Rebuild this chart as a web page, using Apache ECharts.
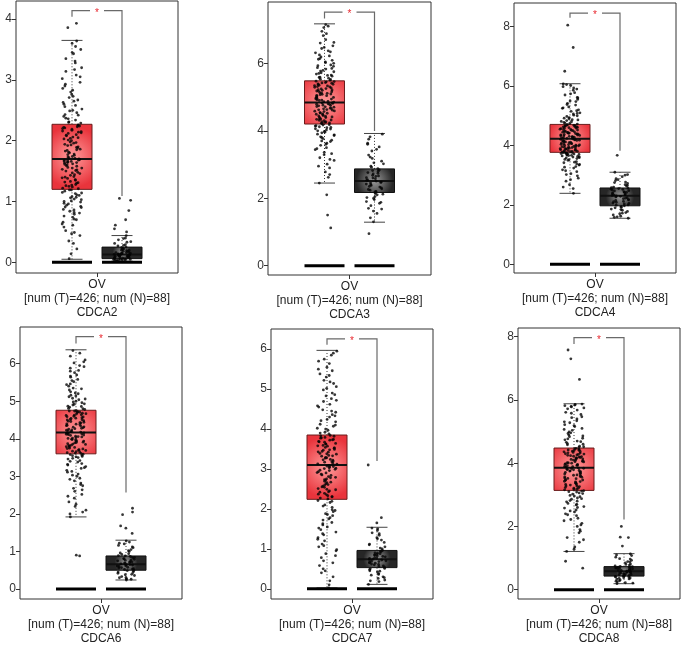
<!DOCTYPE html>
<html><head><meta charset="utf-8">
<script src="https://cdn.jsdelivr.net/npm/echarts@6/dist/echarts.min.js"></script>
<style>html,body{margin:0;padding:0;background:#fff}#c{width:692px;height:646px}</style>
</head><body><div id="c"></div>
<script>
// ---------- data ----------
const genes = ['CDCA2','CDCA3','CDCA4','CDCA6','CDCA7','CDCA8'];
const cancer = 'OV';
const numT = 426, numN = 88;
const yMin = [-0.176, -0.276, -0.293, -0.266, -0.256, -0.294];
const yMax = [4.298, 7.818, 8.798, 6.977, 6.505, 8.276];
const yTicks = [[0,1,2,3,4],[0,2,4,6],[0,2,4,6,8],[0,1,2,3,4,5,6],[0,1,2,3,4,5,6],[0,2,4,6,8]];
// [lowWhisker, Q1, median, Q3, highWhisker]
const tumorStats = [
  [0.05, 1.2, 1.7, 2.27, 3.65],
  [2.45, 4.2, 4.84, 5.48, 7.17],
  [2.39, 3.77, 4.23, 4.71, 6.08],
  [1.92, 3.6, 4.17, 4.76, 6.37],
  [0.02, 2.24, 3.1, 3.85, 5.97],
  [1.21, 3.14, 3.86, 4.48, 5.88]
];
const normalStats = [
  [0.02, 0.06, 0.13, 0.25, 0.44],
  [1.29, 2.17, 2.51, 2.87, 3.92],
  [1.55, 1.97, 2.31, 2.57, 3.1],
  [0.24, 0.5, 0.66, 0.88, 1.3],
  [0.11, 0.53, 0.74, 0.96, 1.54],
  [0.19, 0.43, 0.58, 0.73, 1.14]
];
// significance bracket: [top, left leg end, right leg end]
const brackets = [
  [4.14, 4.04, 1.09],
  [7.52, 7.33, 3.99],
  [8.46, 8.3, 3.82],
  [6.72, 6.54, 2.57],
  [6.26, 6.11, 3.2],
  [7.97, 7.77, 2.22]
];
const tumorCDCA2 = [0.06,0.14,0.22,0.31,0.44,0.47,0.52,0.58,0.61,0.66,0.7,0.71,0.76,0.79,0.82,0.84,0.87,0.9,0.91,0.94,0.96,0.99,1.01,1.03,1.06,1.08,1.11,1.13,1.15,1.19,
 1.21,1.22,1.25,1.26,1.28,1.3,1.32,1.33,1.36,1.38,1.4,1.41,1.44,1.46,1.48,1.5,1.51,1.53,1.55,1.56,1.58,1.6,1.61,1.63,1.64,1.65,1.66,1.67,1.68,1.69,
 1.71,1.72,1.74,1.77,1.78,1.8,1.83,1.84,1.86,1.89,1.9,1.92,1.94,1.97,1.98,2.0,2.03,2.04,2.06,2.08,2.1,2.12,2.14,2.15,2.17,2.19,2.21,2.22,2.24,2.26,
 2.29,2.31,2.34,2.37,2.4,2.42,2.46,2.49,2.52,2.56,2.6,2.63,2.67,2.71,2.76,2.8,2.86,2.9,2.96,3.02,3.08,3.14,3.2,3.28,3.35,3.43,3.5,3.6,3.86,3.93,
 0.35,0.49,0.63,0.74,0.81,0.86,0.92,0.97,1.0,1.04,1.07,1.1,1.14,1.17,1.19,
 1.24,1.27,1.31,1.35,1.39,1.43,1.47,1.52,1.55,1.59,1.62,1.64,1.66,1.68,1.7,
 1.73,1.76,1.81,1.85,1.88,1.93,1.96,2.01,2.05,2.09,2.13,2.16,2.2,2.23,2.25,
 2.3,2.36,2.43,2.5,2.58,2.65,2.73,2.83,2.93,3.05,3.17,3.31,3.45,3.55,3.64];
const normalCDCA2 = [0.02,0.03,0.03,0.04,0.05,0.05,0.06,0.06,0.07,0.08,0.08,0.09,0.1,0.1,0.11,0.12,0.12,0.13,0.13,0.14,0.15,0.15,0.16,0.17,0.18,0.19,0.2,0.21,0.22,0.24,0.25,0.27,0.29,0.31,0.34,0.37,0.4,0.44,0.5,0.55,0.61,0.7,0.85,1.02,1.05,
 0.03,0.04,0.05,0.06,0.07,0.08,0.09,0.1,0.11,0.12,0.13,0.14,0.15,0.16,0.18,0.2,0.23,0.28,0.33,0.39];
const tumorCDCA3 = [1.12,1.5,2.1,2.45,2.62,2.78,2.9,3.01,3.12,3.2,3.29,3.36,3.44,3.5,3.57,3.63,3.68,3.72,3.77,3.82,3.86,3.9,3.94,3.98,4.02,4.06,4.09,4.12,4.15,4.18,
 4.21,4.23,4.25,4.27,4.3,4.32,4.34,4.36,4.39,4.41,4.43,4.45,4.48,4.5,4.52,4.54,4.57,4.59,4.61,4.63,4.65,4.67,4.7,4.72,4.74,4.76,4.78,4.8,4.82,4.83,
 4.85,4.87,4.9,4.92,4.94,4.96,4.98,5.0,5.03,5.05,5.07,5.09,5.11,5.13,5.16,5.18,5.2,5.22,5.24,5.27,5.29,5.31,5.33,5.35,5.37,5.39,5.41,5.43,5.45,5.47,
 5.5,5.53,5.56,5.59,5.62,5.65,5.68,5.72,5.75,5.79,5.83,5.87,5.91,5.95,6.0,6.04,6.09,6.14,6.19,6.25,6.31,6.37,6.44,6.52,6.6,6.7,6.82,6.95,7.06,7.15,
 2.7,2.95,3.15,3.32,3.47,3.6,3.7,3.8,3.88,3.96,4.0,4.05,4.1,4.14,4.17,
 4.22,4.26,4.31,4.35,4.4,4.44,4.49,4.53,4.58,4.62,4.66,4.71,4.75,4.79,4.81,
 4.86,4.91,4.95,4.99,5.04,5.08,5.12,5.17,5.21,5.25,5.3,5.34,5.38,5.42,5.46,
 5.52,5.58,5.64,5.7,5.77,5.85,5.93,6.02,6.12,6.22,6.34,6.47,6.62,6.88,7.1];
const normalCDCA3 = [0.95,1.3,1.42,1.55,1.62,1.7,1.78,1.85,1.9,1.96,2.0,2.05,2.1,2.14,2.17,2.2,2.24,2.28,2.31,2.35,2.38,2.42,2.45,2.48,2.51,2.54,2.58,2.61,2.65,2.68,2.72,2.76,2.8,2.84,2.88,2.95,3.02,3.1,3.18,3.28,3.4,3.52,3.63,3.75,3.9,
 1.68,1.88,2.02,2.12,2.19,2.26,2.33,2.4,2.47,2.53,2.6,2.66,2.74,2.82,2.92,3.05,3.22,3.45,3.6,3.82];
const tumorCDCA4 = [2.39,2.55,2.68,2.8,2.9,2.98,3.05,3.12,3.18,3.24,3.29,3.34,3.38,3.42,3.46,3.5,3.53,3.56,3.59,3.61,3.63,3.65,3.67,3.69,3.7,3.71,3.73,3.74,3.75,3.76,
 3.78,3.79,3.8,3.82,3.83,3.85,3.86,3.88,3.89,3.91,3.92,3.94,3.95,3.97,3.98,4.0,4.02,4.03,4.05,4.06,4.08,4.1,4.11,4.13,4.15,4.16,4.18,4.19,4.21,4.22,
 4.24,4.25,4.27,4.28,4.3,4.32,4.33,4.35,4.37,4.38,4.4,4.42,4.43,4.45,4.47,4.48,4.5,4.52,4.53,4.55,4.57,4.58,4.6,4.62,4.63,4.65,4.66,4.68,4.69,4.7,
 4.72,4.75,4.78,4.81,4.84,4.87,4.9,4.94,4.98,5.02,5.06,5.1,5.15,5.2,5.25,5.3,5.36,5.42,5.48,5.55,5.62,5.7,5.78,5.86,5.94,6.02,6.07,6.5,7.3,8.05,
 2.6,2.85,3.02,3.15,3.27,3.36,3.44,3.52,3.58,3.62,3.66,3.68,3.72,3.74,3.76,
 3.79,3.81,3.84,3.87,3.9,3.93,3.96,3.99,4.01,4.04,4.07,4.12,4.14,4.17,4.2,
 4.26,4.29,4.31,4.34,4.36,4.39,4.41,4.44,4.46,4.51,4.54,4.59,4.61,4.64,4.67,
 4.74,4.8,4.86,4.92,5.0,5.08,5.17,5.27,5.38,5.5,5.6,5.74,5.9,5.98,6.05];
const normalCDCA4 = [1.55,1.58,1.62,1.66,1.7,1.74,1.78,1.82,1.86,1.9,1.94,1.97,2.0,2.03,2.06,2.09,2.12,2.15,2.18,2.21,2.24,2.27,2.3,2.32,2.34,2.37,2.4,2.42,2.44,2.47,2.5,2.52,2.55,2.57,2.6,2.64,2.68,2.72,2.77,2.82,2.88,2.95,3.02,3.1,3.67,
 1.6,1.72,1.84,1.92,1.99,2.05,2.11,2.17,2.23,2.29,2.33,2.38,2.43,2.48,2.53,2.58,2.66,2.75,2.85,3.0];
const tumorCDCA6 = [0.88,0.9,1.92,2.0,2.1,2.2,2.32,2.42,2.52,2.6,2.68,2.75,2.82,2.88,2.95,3.0,3.06,3.11,3.16,3.21,3.26,3.3,3.34,3.38,3.42,3.46,3.5,3.53,3.56,3.59,
 3.61,3.63,3.65,3.67,3.69,3.71,3.73,3.75,3.77,3.79,3.81,3.83,3.85,3.87,3.89,3.91,3.93,3.95,3.97,3.99,4.01,4.03,4.05,4.07,4.09,4.11,4.12,4.14,4.15,4.16,
 4.18,4.2,4.22,4.24,4.26,4.28,4.3,4.32,4.34,4.36,4.38,4.4,4.42,4.44,4.46,4.48,4.5,4.52,4.54,4.56,4.58,4.6,4.62,4.64,4.66,4.68,4.7,4.72,4.74,4.75,
 4.78,4.81,4.84,4.87,4.9,4.93,4.96,5.0,5.04,5.08,5.12,5.16,5.2,5.25,5.3,5.35,5.4,5.46,5.52,5.58,5.64,5.7,5.76,5.82,5.88,5.95,6.02,6.1,6.2,6.35,
 2.05,2.26,2.47,2.64,2.78,2.92,3.03,3.13,3.23,3.32,3.4,3.48,3.52,3.55,3.58,
 3.62,3.66,3.7,3.74,3.78,3.82,3.86,3.9,3.94,3.98,4.02,4.06,4.1,4.13,4.16,
 4.19,4.23,4.27,4.31,4.35,4.39,4.43,4.47,4.51,4.55,4.59,4.63,4.67,4.71,4.74,
 4.8,4.86,4.92,4.98,5.06,5.14,5.22,5.33,5.44,5.55,5.67,5.8,5.92,6.05,6.28];
const normalCDCA6 = [0.24,0.27,0.3,0.33,0.36,0.39,0.42,0.45,0.48,0.5,0.52,0.54,0.56,0.58,0.6,0.62,0.64,0.65,0.67,0.69,0.71,0.73,0.75,0.77,0.79,0.81,0.83,0.85,0.87,0.89,0.92,0.96,1.0,1.05,1.1,1.16,1.22,1.28,1.48,1.62,1.68,1.98,2.05,2.15,
 0.26,0.3,0.38,0.44,0.49,0.53,0.57,0.61,0.64,0.68,0.72,0.76,0.8,0.84,0.88,0.94,1.02,1.12,1.2,1.25];
const tumorCDCA7 = [0.02,0.1,0.3,0.4,0.5,0.58,0.7,0.78,0.88,0.98,1.05,1.12,1.2,1.28,1.35,1.42,1.48,1.55,1.6,1.66,1.72,1.78,1.83,1.88,1.93,1.98,2.04,2.1,2.16,2.21,
 2.27,2.3,2.33,2.36,2.39,2.42,2.45,2.48,2.51,2.54,2.57,2.6,2.63,2.66,2.69,2.72,2.75,2.78,2.81,2.84,2.87,2.9,2.93,2.96,2.99,3.01,3.03,3.05,3.07,3.09,
 3.12,3.14,3.17,3.19,3.22,3.24,3.27,3.29,3.32,3.34,3.37,3.39,3.42,3.44,3.47,3.49,3.52,3.54,3.57,3.59,3.62,3.64,3.67,3.69,3.72,3.74,3.77,3.79,3.82,3.84,
 3.88,3.92,3.97,4.02,4.07,4.12,4.18,4.24,4.3,4.36,4.42,4.48,4.55,4.62,4.69,4.76,4.83,4.9,4.98,5.06,5.14,5.22,5.3,5.38,5.46,5.55,5.64,5.75,5.85,5.95,
 0.2,0.45,0.65,0.83,0.95,1.08,1.24,1.38,1.52,1.63,1.75,1.86,1.96,2.07,2.19,
 2.25,2.31,2.37,2.43,2.49,2.55,2.61,2.67,2.73,2.79,2.85,2.91,2.97,3.02,3.06,
 3.13,3.18,3.23,3.28,3.33,3.38,3.43,3.48,3.53,3.58,3.63,3.68,3.73,3.78,3.83,
 3.9,4.0,4.1,4.21,4.33,4.45,4.58,4.72,4.86,5.02,5.18,5.34,5.5,5.7,5.9];
const normalCDCA7 = [0.11,0.18,0.22,0.26,0.3,0.34,0.38,0.42,0.45,0.48,0.51,0.54,0.57,0.6,0.62,0.64,0.66,0.68,0.7,0.72,0.74,0.76,0.78,0.8,0.82,0.84,0.86,0.88,0.9,0.93,0.96,1.0,1.05,1.1,1.16,1.22,1.28,1.34,1.4,1.46,1.52,1.65,1.78,3.1,
 0.2,0.28,0.36,0.44,0.5,0.56,0.61,0.65,0.69,0.73,0.77,0.81,0.85,0.89,0.94,1.02,1.12,1.25,1.38,1.5];
const tumorCDCA8 = [0.68,0.9,1.21,1.35,1.5,1.65,1.8,1.9,2.0,2.1,2.18,2.26,2.34,2.4,2.46,2.52,2.58,2.63,2.68,2.73,2.78,2.82,2.86,2.9,2.94,2.98,3.02,3.06,3.09,3.12,
 3.16,3.18,3.21,3.23,3.26,3.28,3.31,3.33,3.36,3.38,3.41,3.43,3.46,3.48,3.51,3.53,3.56,3.58,3.61,3.63,3.66,3.68,3.71,3.73,3.75,3.77,3.79,3.81,3.83,3.85,
 3.88,3.9,3.92,3.94,3.96,3.98,4.0,4.02,4.04,4.06,4.08,4.1,4.12,4.14,4.16,4.18,4.2,4.22,4.24,4.26,4.28,4.3,4.32,4.34,4.36,4.38,4.4,4.42,4.44,4.47,
 4.5,4.54,4.58,4.62,4.66,4.7,4.74,4.79,4.84,4.89,4.94,4.99,5.04,5.1,5.16,5.22,5.28,5.34,5.4,5.47,5.54,5.61,5.68,5.75,5.8,5.82,5.86,6.65,7.3,7.58,
 1.28,1.58,1.85,2.05,2.22,2.37,2.49,2.6,2.7,2.8,2.88,2.96,3.04,3.1,3.13,
 3.17,3.22,3.27,3.32,3.37,3.42,3.47,3.52,3.57,3.62,3.67,3.72,3.76,3.8,3.84,
 3.89,3.93,3.97,4.01,4.05,4.09,4.13,4.17,4.21,4.25,4.29,4.33,4.37,4.41,4.45,
 4.52,4.6,4.68,4.77,4.86,4.96,5.07,5.19,5.31,5.44,5.58,5.72,5.78,5.84,5.87];
const normalCDCA8 = [0.19,0.22,0.25,0.28,0.31,0.34,0.36,0.38,0.4,0.42,0.43,0.45,0.46,0.48,0.5,0.51,0.53,0.54,0.56,0.57,0.58,0.6,0.61,0.63,0.64,0.66,0.67,0.69,0.7,0.72,0.73,0.75,0.78,0.81,0.85,0.89,0.93,0.98,1.03,1.08,1.13,1.38,1.65,1.66,2.0,
 0.21,0.27,0.33,0.37,0.41,0.44,0.47,0.5,0.53,0.56,0.59,0.62,0.65,0.68,0.71,0.74,0.8,0.88,0.97,1.1];

const tumorPts = [tumorCDCA2, tumorCDCA3, tumorCDCA4, tumorCDCA6, tumorCDCA7, tumorCDCA8];
const normalPts = [normalCDCA2, normalCDCA3, normalCDCA4, normalCDCA6, normalCDCA7, normalCDCA8];

// ---------- layout / style ----------
const layout = [
  {left:16,  top:1,   width:162, height:272},
  {left:268, top:2,   width:163, height:273},
  {left:514, top:3,   width:162, height:270},
  {left:20,  top:327, width:162, height:272},
  {left:271, top:329, width:162, height:272},
  {left:518, top:328, width:162, height:271}
];
const POS_T = -25, POS_N = 25, HALF_BOX = 20, HALF_CAP = 10.5;
const FONT = '"Liberation Sans", Arial, sans-serif';

// deterministic horizontal jitter (x position only, carries no data)
function jitter(i, span) {
  let t = (Math.imul(i + 1, 0x9E3779B9) + 0x6D2B79F5) | 0;
  t = Math.imul(t ^ (t >>> 15), t | 1);
  t ^= t + Math.imul(t ^ (t >>> 7), t | 61);
  const u = ((t ^ (t >>> 14)) >>> 0) / 4294967296;
  return (u * 2 - 1) * span;
}

function boxRender(params, api) {
  const x = api.value(0);
  const hw = api.size([HALF_BOX, 0])[0];
  const cw = api.size([HALF_CAP, 0])[0];
  const c = v => api.coord([x, v]);
  const pl = c(api.value(1)), p1 = c(api.value(2)), pm = c(api.value(3)), p3 = c(api.value(4)), ph = c(api.value(5)), p0 = c(0);
  const tumor = api.value(6) === 0;
  const cx = pm[0];
  const grad = tumor
    ? new echarts.graphic.RadialGradient(0.5, 0.5, 0.75, [{offset:0,color:'#ff9c9c'},{offset:1,color:'#e9343c'}])
    : new echarts.graphic.RadialGradient(0.5, 0.5, 0.75, [{offset:0,color:'#9b9b9b'},{offset:1,color:'#262626'}]);
  const dot = {stroke:'#333', lineWidth:1, lineDash:[1,2]};
  const cap = {stroke:'#444', lineWidth:1};
  return {type:'group', children:[
    {type:'line', shape:{x1:cx, y1:p3[1], x2:cx, y2:ph[1]}, style:dot},
    {type:'line', shape:{x1:cx, y1:p1[1], x2:cx, y2:pl[1]}, style:dot},
    {type:'line', shape:{x1:cx-cw, y1:ph[1], x2:cx+cw, y2:ph[1]}, style:cap},
    {type:'line', shape:{x1:cx-cw, y1:pl[1], x2:cx+cw, y2:pl[1]}, style:cap},
    {type:'rect', shape:{x:cx-hw, y:p3[1], width:2*hw, height:p1[1]-p3[1]},
      style:{fill:grad, stroke: tumor ? '#6a1c1c' : '#111', lineWidth:1}},
    {type:'line', shape:{x1:cx-hw, y1:pm[1], x2:cx+hw, y2:pm[1]}, style:{stroke:'#111', lineWidth:2}},
    {type:'line', shape:{x1:cx-hw, y1:p0[1], x2:cx+hw, y2:p0[1]}, style:{stroke:'#000', lineWidth:3}}
  ]};
}

function bracketRender(params, api) {
  const xl = api.value(0), xr = api.value(1), top = api.value(2);
  const a = api.coord([xl, top]), b = api.coord([xr, top]);
  const la = api.coord([xl, api.value(3)]), rb = api.coord([xr, api.value(4)]);
  const mid = (a[0] + b[0]) / 2, gap = 7;
  const st = {stroke:'#6a6a6a', lineWidth:1.2, fill:null};
  return {type:'group', children:[
    {type:'polyline', shape:{points:[[la[0],la[1]],[a[0],a[1]],[mid-gap,a[1]]]}, style:st},
    {type:'polyline', shape:{points:[[mid+gap,b[1]],[b[0],b[1]],[rb[0],rb[1]]]}, style:st},
    {type:'text', x:mid, y:a[1]+2.5, style:{text:'*', fill:'#e8262e', fontSize:10, fontFamily:FONT, align:'center', verticalAlign:'middle'}}
  ]};
}

const grid = [], xAxis = [], yAxis = [], series = [];
genes.forEach((g, k) => {
  const L = layout[k];
  grid.push({left:L.left, top:L.top, width:L.width, height:L.height, show:true, borderColor:'#333', borderWidth:1, backgroundColor:'#fff'});
  const half = L.width / 2;
  xAxis.push({type:'value', gridIndex:k, min:-half, max:half, position:'bottom', splitLine:{show:false},
    axisLine:{show:false, onZero:false},
    axisTick:{show:true, length:4, customValues:[0], lineStyle:{color:'#333'}},
    axisLabel:{show:true, customValues:[0], margin:5, fontSize:12, lineHeight:14, color:'#222', fontFamily:FONT,
      formatter: () => cancer + '\n[num (T)=' + numT + '; num (N)=' + numN + ']\n' + g}});
  yAxis.push({type:'value', gridIndex:k, min:yMin[k], max:yMax[k], position:'left', splitLine:{show:false},
    axisLine:{show:false, onZero:false},
    axisTick:{show:true, length:4, customValues:yTicks[k], lineStyle:{color:'#333'}},
    axisLabel:{show:true, customValues:yTicks[k], margin:4, fontSize:12, color:'#333', fontFamily:FONT}});
  series.push({type:'custom', xAxisIndex:k, yAxisIndex:k, z:2, renderItem:boxRender, silent:true,
    encode:{x:0, y:[1,2,3,4,5]},
    data:[[POS_T].concat(tumorStats[k], [0]), [POS_N].concat(normalStats[k], [1])]});
  series.push({type:'custom', xAxisIndex:k, yAxisIndex:k, z:2, renderItem:bracketRender, silent:true,
    encode:{x:[0,1], y:[2,3,4]},
    data:[[POS_T, POS_N].concat(brackets[k])]});
  const pts = [];
  tumorPts[k].forEach((v, i) => pts.push([POS_T + jitter(i + k * 1031, 10), v]));
  normalPts[k].forEach((v, i) => pts.push([POS_N + jitter(i + k * 977 + 50000, 9), v]));
  series.push({type:'scatter', xAxisIndex:k, yAxisIndex:k, z:4, symbol:'circle', symbolSize:2.8, silent:true,
    itemStyle:{color:'#050505'}, data:pts});
});

const chart = echarts.init(document.getElementById('c'), null, {renderer:'canvas'});
chart.setOption({animation:false, backgroundColor:'#fff', grid, xAxis, yAxis, series});
</script>
</body></html>
